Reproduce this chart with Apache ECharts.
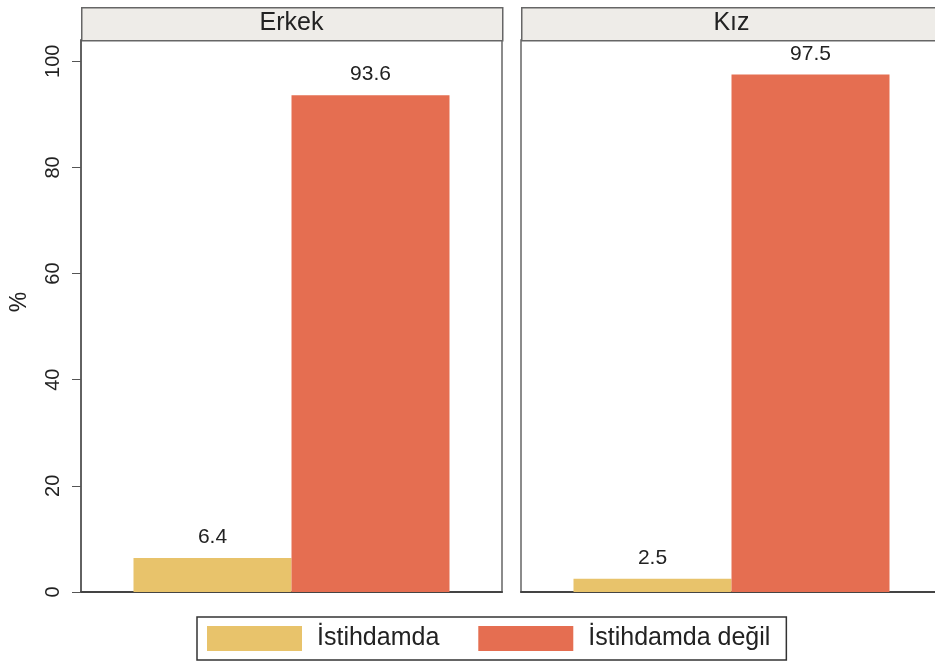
<!DOCTYPE html>
<html>
<head>
<meta charset="utf-8">
<script src="https://cdn.jsdelivr.net/npm/echarts@6/dist/echarts.min.js"></script>
<style>
  html, body { margin: 0; padding: 0; background: #fff; overflow: hidden; }
  #chart { width: 950px; height: 664px; }
</style>
</head>
<body>
<div id="chart"></div>
<script>
const panels = ['Erkek', 'Kız'];
const seriesNames = ['İstihdamda', 'İstihdamda değil'];
const istihdamda = [6.4, 2.5];
const istihdamdaDegil = [93.6, 97.5];
const yTicks = [0, 20, 40, 60, 80, 100];
const colors = ['#E8C36B', '#E56E51'];

const font = 'Liberation Sans, Arial, sans-serif';
// panels are 421px wide; the right one runs past the 935px window edge
const panelLeft = [81, 521];
const panelWidth = 421;
const plotTop = 40;
const plotBottom = 72;

const grids = panels.map((p, i) => ({
  left: panelLeft[i], top: plotTop, width: panelWidth, bottom: plotBottom,
  show: true, borderColor: '#666', borderWidth: 1.5, backgroundColor: '#fff'
}));

const xAxes = panels.map((p, i) => ({
  type: 'category', gridIndex: i, data: [p],
  axisLine: { lineStyle: { color: '#444', width: 2 } },
  axisTick: { show: false }, axisLabel: { show: false }
}));

const yAxes = panels.map((p, i) => ({
  type: 'value', gridIndex: i, min: 0, max: 104,
  axisLine: { show: i === 0, lineStyle: { color: '#555', width: 1.5 } },
  axisTick: { show: i === 0, length: 9, lineStyle: { color: '#555' }, customValues: yTicks },
  axisLabel: {
    show: i === 0, rotate: 90, fontFamily: font, fontSize: 20, color: '#222', margin: 18,
    customValues: yTicks
  },
  splitLine: { show: false }
}));

const labelOpt = { show: true, position: 'top', distance: 10, fontFamily: font, fontSize: 21, color: '#222' };

const series = [];
panels.forEach((p, i) => {
  series.push({
    name: seriesNames[0], type: 'bar', xAxisIndex: i, yAxisIndex: i,
    data: [istihdamda[i]], barWidth: 158, barGap: '0%',
    itemStyle: { color: colors[0] }, label: labelOpt
  });
  series.push({
    name: seriesNames[1], type: 'bar', xAxisIndex: i, yAxisIndex: i,
    data: [istihdamdaDegil[i]], barWidth: 158, barGap: '0%',
    itemStyle: { color: colors[1] }, label: labelOpt
  });
});

const decor = [];
panels.forEach((p, i) => {
  decor.push({
    type: 'rect', left: panelLeft[i], top: 7,
    shape: { width: panelWidth, height: 33 },
    style: { fill: '#EEECE8', stroke: '#666', lineWidth: 1.5 }
  });
  decor.push({
    type: 'text', x: panelLeft[i] + panelWidth / 2, y: 23,
    style: { text: p, font: '25px ' + font, fill: '#222', align: 'center', verticalAlign: 'middle' }
  });
});
// y axis title
decor.push({
  type: 'text', x: 20, y: 302, rotation: Math.PI / 2,
  style: { text: '%', font: '23px ' + font, fill: '#222', align: 'center', verticalAlign: 'middle' }
});

const option = {
  animation: false,
  backgroundColor: '#fff',
  grid: grids,
  xAxis: xAxes,
  yAxis: yAxes,
  series: series,
  legend: {
    data: seriesNames,
    left: 197, top: 617,
    icon: 'rect', itemWidth: 95, itemHeight: 25, itemGap: 39,
    padding: [9, 16, 9, 10],
    borderColor: '#333', borderWidth: 1.5,
    textStyle: { fontFamily: font, fontSize: 25, color: '#222', padding: [0, 0, 0, 10] },
    selectedMode: false
  },
  graphic: decor
};

const chart = echarts.init(document.getElementById('chart'));
chart.setOption(option);
</script>
</body>
</html>
